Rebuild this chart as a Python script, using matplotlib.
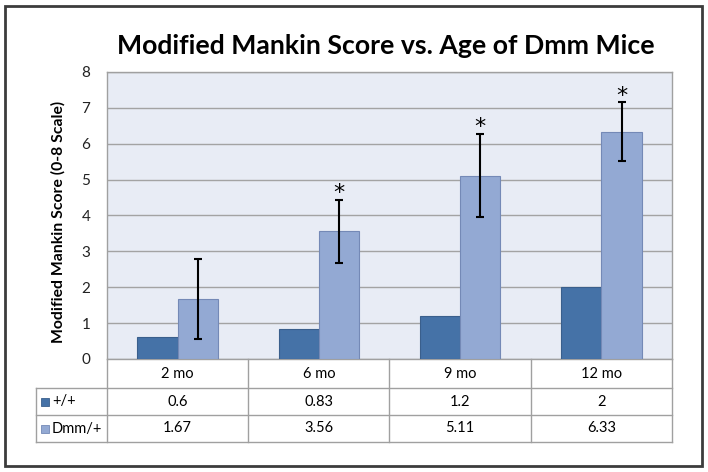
import matplotlib.pyplot as plt
from matplotlib.patches import Rectangle

categories = ['2 mo', '6 mo', '9 mo', '12 mo']
series_names = ['+/+', 'Dmm/+']
wild_type = [0.6, 0.83, 1.2, 2]
dmm = [1.67, 3.56, 5.11, 6.33]
dmm_err = [1.11, 0.88, 1.16, 0.82]
significant = [False, True, True, True]

colors = ['#4572A7', '#93A9D3']
edges = ['#3A5F8C', '#7489B6']
font = ['Lato', 'DejaVu Sans']

plt.rcParams['font.family'] = font

fig = plt.figure(figsize=(7.08, 4.72), dpi=100)
ax = fig.add_axes([107 / 708, 1 - 359 / 472, 565 / 708, 287 / 472])

x = list(range(len(categories)))
w = 1 / 3.5
ax.bar([i - w / 2 for i in x], wild_type, w, color=colors[0], edgecolor=edges[0], lw=0.8, zorder=3)
ax.bar([i + w / 2 for i in x], dmm, w, color=colors[1], edgecolor=edges[1], lw=0.8, zorder=3)
ax.errorbar([i + w / 2 for i in x], dmm, yerr=dmm_err, fmt='none', ecolor='black',
            elinewidth=1.5, capsize=2.7, capthick=1.5, zorder=4)
for i in x:
    if significant[i]:
        ax.text(i + w / 2, dmm[i] + dmm_err[i] + 0.02, '*', ha='center', va='baseline',
                fontsize=16, family='DejaVu Sans', zorder=5)

ax.set_xlim(-0.5, len(categories) - 0.5)
ax.set_ylim(0, 8)
ax.set_yticks(range(0, 9))
ax.set_facecolor('#E8ECF5')
ax.grid(axis='y', color='#A3A3A3', lw=1, zorder=1)
ax.set_xticks([])
ax.tick_params(axis='y', length=0, pad=12, labelsize=11, labelcolor='#222222')
for s in ax.spines.values():
    s.set_color('#A0A0A0')
    s.set_linewidth(1)

fig.text(386 / 708, 1 - 54 / 472, 'Modified Mankin Score vs. Age of Dmm Mice',
         ha='center', va='baseline', fontsize=19.2, fontweight='bold')
fig.text(58 / 708, 1 - 222 / 472, 'Modified Mankin Score (0-8 Scale)', rotation=90,
         ha='center', va='center', fontsize=11.3, fontweight='bold')

# data table under the axes
tr = ax.transAxes
rows = [0, -29 / 287, -56 / 287, -83 / 287]
left = (36 - 107) / 565
line_kw = dict(color='#A0A0A0', lw=1, transform=tr, clip_on=False)
ax.plot([left, 1], [rows[1], rows[1]], **line_kw)
ax.plot([left, 1], [rows[2], rows[2]], **line_kw)
ax.plot([left, 1], [rows[3], rows[3]], **line_kw)
ax.plot([left, left], [rows[1], rows[3]], **line_kw)
for k in range(len(categories) + 1):
    ax.plot([k / 4, k / 4], [0, rows[3]], **line_kw)

n = len(categories)
for k in range(n):
    cx = (k + 0.5) / n
    ax.text(cx, (rows[0] + rows[1]) / 2, categories[k], transform=tr, ha='center', va='center', fontsize=10.5)
    ax.text(cx, (rows[1] + rows[2]) / 2, f'{wild_type[k]:g}', transform=tr, ha='center', va='center', fontsize=10.5)
    ax.text(cx, (rows[2] + rows[3]) / 2, f'{dmm[k]:g}', transform=tr, ha='center', va='center', fontsize=10.5)

for r, name in enumerate(series_names):
    yc = (rows[r + 1] + rows[r + 2]) / 2
    ax.add_patch(Rectangle((left + 5 / 565, yc - 4 / 287), 8 / 565, 8 / 287, transform=tr,
                           facecolor=colors[r], edgecolor=edges[r], lw=0.6, clip_on=False))
    ax.text(left + 16 / 565, yc, name, transform=tr, ha='left', va='center', fontsize=10.5)

fig.patches.append(Rectangle((5 / 708, 6 / 472), 697 / 708, 460 / 472, transform=fig.transFigure,
                             fill=False, edgecolor='#3C3C3C', lw=2))

fig.savefig('out.png', dpi=100)
